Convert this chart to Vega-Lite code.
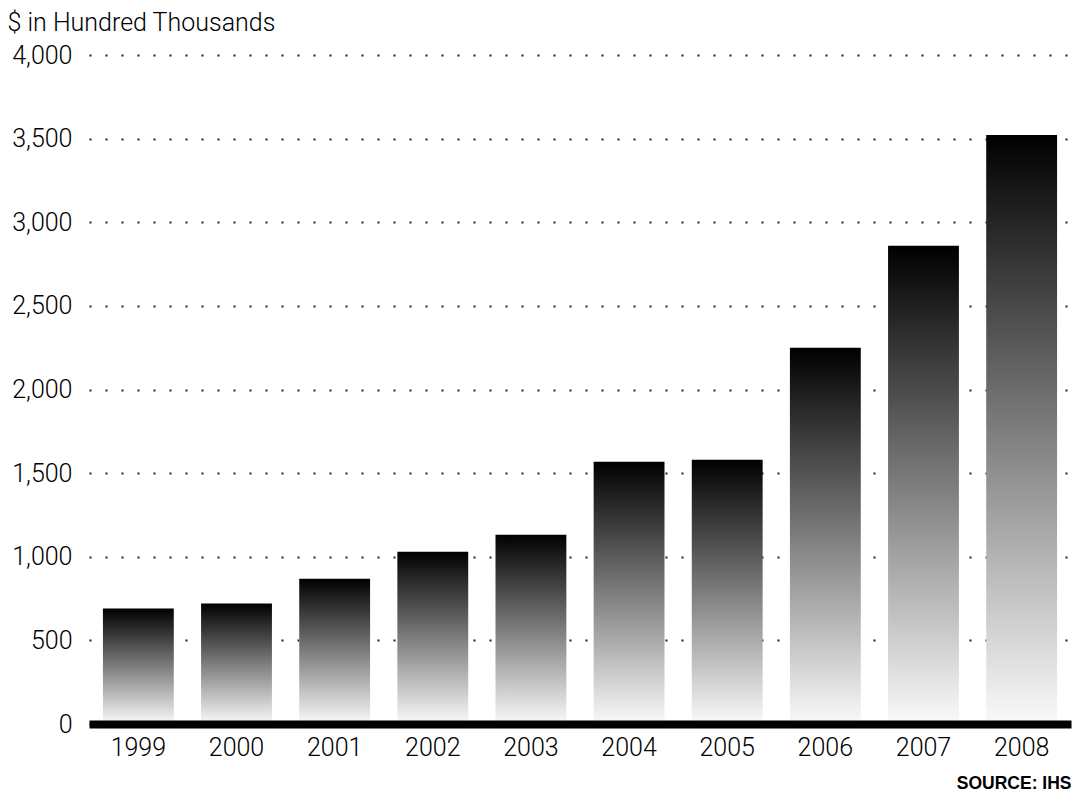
{
  "$schema": "https://vega.github.io/schema/vega-lite/v6.json",
  "width": 982,
  "height": 669,
  "autosize": {"type": "none"},
  "padding": {"left": 89, "top": 55, "right": 5, "bottom": 69},
  "background": "white",
  "config": {
    "view": {"stroke": null},
    "font": "Roboto",
    "axis": {"labelFont": "Roboto", "labelFontWeight": 300, "titleFont": "Roboto"}
  },
  "data": {
    "values": [
      {"year": "1999", "value": 690},
      {"year": "2000", "value": 720},
      {"year": "2001", "value": 869},
      {"year": "2002", "value": 1030},
      {"year": "2003", "value": 1132},
      {"year": "2004", "value": 1568},
      {"year": "2005", "value": 1580},
      {"year": "2006", "value": 2249},
      {"year": "2007", "value": 2859},
      {"year": "2008", "value": 3522}
    ]
  },
  "mark": {
    "type": "bar",
    "color": {
      "gradient": "linear",
      "x1": 0, "y1": 0, "x2": 0, "y2": 1,
      "stops": [
        {"offset": 0, "color": "#000000"},
        {"offset": 1, "color": "#fafafa"}
      ]
    }
  },
  "encoding": {
    "x": {
      "field": "year",
      "type": "nominal",
      "sort": null,
      "scale": {"paddingInner": 0.278, "paddingOuter": 0.142},
      "axis": {
        "title": "SOURCE: IHS",
        "titleFont": "Liberation Sans",
        "titleFontWeight": "bold",
        "titleFontSize": 17.5,
        "titleColor": "#000000",
        "titleAnchor": "end",
        "titleAlign": "right",
        "titleX": 982,
        "titleY": 64,
        "titleBaseline": "alphabetic",
        "labelAngle": 0,
        "labelFontSize": 25,
        "labelColor": "#000000",
        "labelPadding": 11,
        "ticks": false,
        "domain": true,
        "domainColor": "#000000",
        "domainWidth": 8,
        "domainCap": "butt",
        "grid": false,
        "zindex": 1
      }
    },
    "y": {
      "field": "value",
      "type": "quantitative",
      "scale": {"domain": [0, 4000], "nice": false},
      "axis": {
        "values": [0, 500, 1000, 1500, 2000, 2500, 3000, 3500, 4000],
        "format": ",d",
        "title": "$ in Hundred Thousands",
        "titleAngle": 0,
        "titleFontSize": 25,
        "titleFontWeight": 300,
        "titleColor": "#000000",
        "titleAnchor": "start",
        "titleAlign": "left",
        "titleBaseline": "alphabetic",
        "titleX": -82,
        "titleY": -25,
        "labelFontSize": 25,
        "labelColor": "#000000",
        "labelPadding": 17,
        "ticks": false,
        "domain": false,
        "grid": true,
        "gridColor": "#222222",
        "gridWidth": 2,
        "gridDash": [2, 14],
        "zindex": 0
      }
    }
  }
}
